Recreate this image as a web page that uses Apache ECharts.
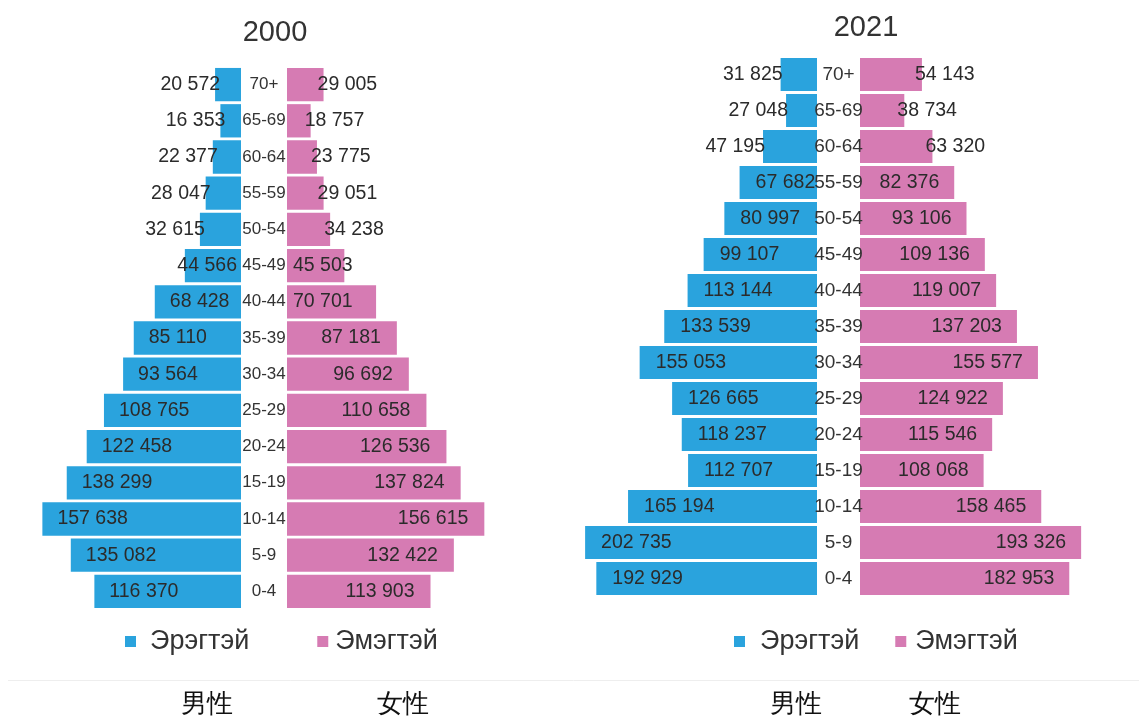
<!DOCTYPE html>
<html>
<head>
<meta charset="utf-8">
<script src="https://cdn.jsdelivr.net/npm/echarts@6/dist/echarts.min.js"></script>
<style>
  html, body { margin: 0; padding: 0; background: #fff; }
  #chart { width: 1139px; height: 720px; }
</style>
</head>
<body>
<div id="chart"></div>
<script>
// age groups, bottom (youngest) to top
const ages = ['0-4', '5-9', '10-14', '15-19', '20-24', '25-29', '30-34', '35-39', '40-44', '45-49', '50-54', '55-59', '60-64', '65-69', '70+'];

const male2000 = [116370, 135082, 157638, 138299, 122458, 108765, 93564, 85110, 68428, 44566, 32615, 28047, 22377, 16353, 20572];
const female2000 = [113903, 132422, 156615, 137824, 126536, 110658, 96692, 87181, 70701, 45503, 34238, 29051, 23775, 18757, 29005];
const male2021 = [192929, 202735, 165194, 112707, 118237, 126665, 155053, 133539, 113144, 99107, 80997, 67682, 47195, 27048, 31825];
const female2021 = [182953, 193326, 158465, 108068, 115546, 124922, 155577, 137203, 119007, 109136, 93106, 82376, 63320, 38734, 54143];

const titles = ['2000', '2021'];
const legendNames = ['Эрэгтэй', 'Эмэгтэй'];
const bottomTexts = ['男性', '女性'];

const BLUE = '#2aa3dd';
const PINK = '#d67bb3';
const FONT = '"Liberation Sans", Arial, sans-serif';

const chart = echarts.init(document.getElementById('chart'));

// 123456 -> "123 456"
const fmt = v => String(v).replace(/\B(?=(\d{3})+(?!\d))/g, ' ');

// label placement like the original (small bars: text sticks out)
const maleLabel2000 = v => {
  if (v < 40000) return { position: 'left', distance: 0, offset: [5, 0] };
  if (v < 60000) return { position: 'insideRight', distance: 4 };
  return { position: 'insideLeft', distance: 15 };
};
const femaleLabel2000 = v => {
  if (v < 40000) return { position: 'right', distance: 0, offset: [-6, 0] };
  if (v < 80000) return { position: 'insideLeft', distance: 6 };
  return { position: 'insideRight', distance: 16 };
};
const maleLabel2021 = v => {
  if (v < 50000) return { position: 'left', distance: 0, offset: [2, 0] };
  return { position: 'insideLeft', distance: 16 };
};
const femaleLabel2021 = v => {
  if (v < 70000) return { position: 'right', distance: 0, offset: [-7, 0] };
  return { position: 'insideRight', distance: 15 };
};

const withLabels = (arr, fn) => arr.map(v => ({ value: v, label: fn(v) }));

const hiddenX = (grid, max, inverse) => ({
  type: 'value', gridIndex: grid, min: 0, max: max, inverse: inverse, show: false
});
const catY = (grid, show, margin, size) => ({
  type: 'category', gridIndex: grid, data: ages, z: 10,
  axisLine: { show: false }, axisTick: { show: false }, splitLine: { show: false },
  axisLabel: { show: show, margin: margin, align: 'center', fontSize: size, color: '#333', fontFamily: FONT }
});

const barSeries = (name, x, y, data, color) => ({
  name: name, type: 'bar', xAxisIndex: x, yAxisIndex: y, data: data,
  barCategoryGap: '8%',
  itemStyle: { color: color },
  label: { show: true, formatter: p => fmt(p.value), fontSize: 19.5, color: '#2b2b2b', fontFamily: FONT }
});

const legendBase = (left, gap, padM, padF) => ({
  left: left, top: 628, padding: 0, icon: 'rect',
  itemWidth: 11, itemHeight: 11, itemGap: gap,
  selectedMode: false,
  data: [
    { name: legendNames[0], textStyle: { padding: [0, 0, 0, padM] } },
    { name: legendNames[1], textStyle: { padding: [0, 0, 0, padF] } }
  ],
  textStyle: { fontSize: 27, color: '#333', fontFamily: FONT }
});

const bottomText = (x, t) => ({
  type: 'text', x: x, y: 705,
  style: { text: t, fontSize: 26, fill: '#111', align: 'center', verticalAlign: 'middle', font: '26px "Noto Sans CJK SC"' }
});

const option = {
  animation: false,
  backgroundColor: '#fff',
  title: [
    { text: titles[0], left: 275, top: 18, textAlign: 'center', padding: 0,
      textStyle: { fontSize: 29, fontWeight: 'normal', color: '#333', fontFamily: FONT } },
    { text: titles[1], left: 866, top: 13, textAlign: 'center', padding: 0,
      textStyle: { fontSize: 29, fontWeight: 'normal', color: '#333', fontFamily: FONT } }
  ],
  legend: [legendBase(125, 68, 9, 2), legendBase(734, 36, 10, 4)],
  grid: [
    { left: 39.4, top: 66.5, width: 201.6, height: 543 },
    { left: 287, top: 66.5, width: 201.6, height: 543 },
    { left: 576.8, top: 56.5, width: 240.2, height: 540 },
    { left: 860, top: 56.5, width: 240.2, height: 540 }
  ],
  xAxis: [
    hiddenX(0, 160000, true),
    hiddenX(1, 160000, false),
    hiddenX(2, 210000, true),
    hiddenX(3, 210000, false)
  ],
  yAxis: [
    catY(0, false, 0, 17),
    catY(1, true, 23, 17),
    catY(2, false, 0, 19),
    catY(3, true, 21.5, 19)
  ],
  series: [
    barSeries(legendNames[0], 0, 0, withLabels(male2000, maleLabel2000), BLUE),
    barSeries(legendNames[1], 1, 1, withLabels(female2000, femaleLabel2000), PINK),
    barSeries(legendNames[0], 2, 2, withLabels(male2021, maleLabel2021), BLUE),
    barSeries(legendNames[1], 3, 3, withLabels(female2021, femaleLabel2021), PINK)
  ],
  graphic: [
    { type: 'line', shape: { x1: 8, y1: 680.5, x2: 1139, y2: 680.5 }, style: { stroke: '#eeeeee', lineWidth: 1 } },
    bottomText(207, bottomTexts[0]),
    bottomText(403, bottomTexts[1]),
    bottomText(796, bottomTexts[0]),
    bottomText(935, bottomTexts[1])
  ]
};

chart.setOption(option);
</script>
</body>
</html>
